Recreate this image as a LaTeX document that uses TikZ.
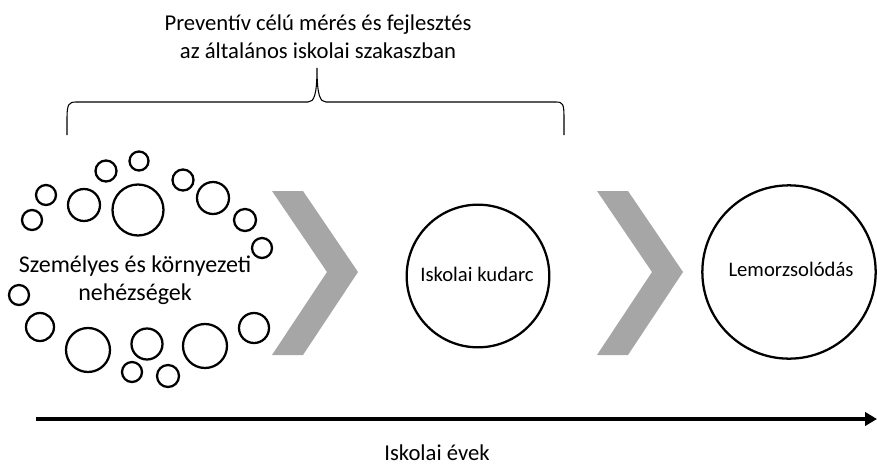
\documentclass[tikz,border=0pt]{standalone}
\usepackage{fontspec}
\setmainfont{Carlito}
\usetikzlibrary{arrows.meta}
\definecolor{chev}{HTML}{A6A6A6}
\tikzset{
  bub/.style={circle, draw, line width=1.7pt, inner sep=0pt},
  bigc/.style={circle, draw, line width=1.7pt, inner sep=0pt, align=center},
  lbl/.style={font=\fontsize{18pt}{21pt}\selectfont, align=center, inner sep=0pt},
  lblm/.style={font=\fontsize{17pt}{21pt}\selectfont, align=center, inner sep=0pt},
  lbls/.style={font=\fontsize{15.5pt}{18pt}\selectfont, align=center, inner sep=0pt},
  chevron/.style={fill=chev, draw=none},
  bracel/.style={line width=0.8pt},
  axis/.style={line width=3pt, -{Triangle[length=9pt,width=10pt]}}
}
\begin{document}
\begin{tikzpicture}[x=0.75pt,y=-0.75pt]
\useasboundingbox (0,0) rectangle (877,467);
% title
\node[lblm] (title) at (318,37) {Preventív célú mérés és fejlesztés\\az általános iskolai szakaszban};
% brace
\draw[bracel] (67,135) -- (67,118) .. controls (67,104) and (69,102) .. (76,102) -- (308,102) .. controls (314,102) and (317,95) .. (317,68) .. controls (317,95) and (320,102) .. (326,102) -- (556,102) .. controls (563,102) and (564,104) .. (564,118) -- (564,135);
% bubbles
\foreach \n/\x/\y/\r in {c1/139/161/9.5, c2/106/171/10.5, c3/46/195/10, c4/84/205/16, c5/138/210/25.5,
  c6/183/180/10.5, c7/213/198/16, c8/32/220/10, c9/245/220/11, c10/262/248/10, c11/19/295/10,
  c12/40/327/14, c13/88/350/22, c14/147/344/15.5, c15/132/372/10, c16/168/376/11,
  c17/205/346/22, c18/254/328/15}
  \node[bub, minimum size=1.5*\r pt] (\n) at (\x,\y) {};
\node[lbl] (left) at (135,280) {Személyes és környezeti\\nehézségek};
% chevrons
\path[chevron] (272,191) -- (303,191) -- (358,272) -- (303,355) -- (272,355) -- (327,272) -- cycle;
\path[chevron] (597,191) -- (628,191) -- (683,272) -- (628,355) -- (597,355) -- (652,272) -- cycle;
% circles
\node[bigc, minimum size=107pt] (fail) at (478,276) {};
\node[lbls] (failt) at (477,274) {Iskolai kudarc};
\node[bigc, minimum size=130pt] (drop) at (789,272) {};
\node[lbls] (dropt) at (791,269) {Lemorzsolódás};
% axis
\coordinate (a0) at (36,419);
\coordinate (a1) at (877,419);
\draw[axis] (a0) -- (a1);
\node[lblm] (years) at (437,453) {Iskolai évek};
\end{tikzpicture}
\end{document}
